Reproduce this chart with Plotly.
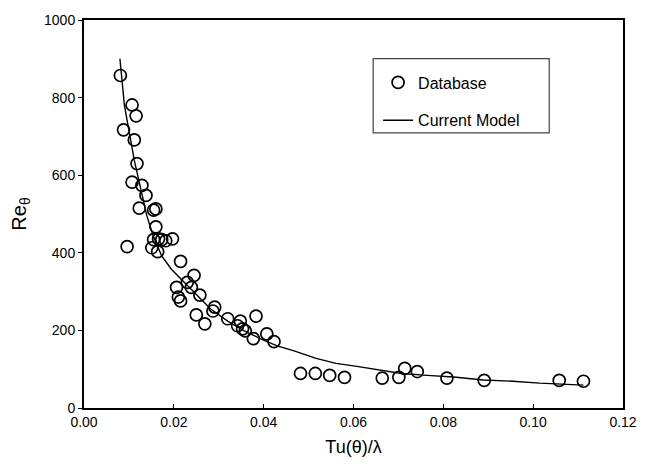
import plotly.graph_objects as go

# Database points: Tu(theta)/lambda vs Re_theta
db_x = [0.0081, 0.0107, 0.0116, 0.0088, 0.0112, 0.0118, 0.0107, 0.0129, 0.0138, 0.0123,
        0.0155, 0.0160, 0.0160, 0.0096, 0.0155, 0.0166, 0.0173, 0.0182, 0.0197, 0.0151,
        0.0164, 0.0215, 0.0245, 0.0230, 0.0239, 0.0206, 0.0210, 0.0215, 0.0258, 0.0291,
        0.0287, 0.0250, 0.0269, 0.0320, 0.0348, 0.0342, 0.0359, 0.0353, 0.0383, 0.0377,
        0.0407, 0.0423, 0.0482, 0.0515, 0.0547, 0.0580, 0.0664, 0.0701, 0.0714, 0.0742,
        0.0808, 0.0891, 0.1058, 0.1112]
db_y = [857, 781, 753, 717, 691, 630, 582, 574, 548, 515,
        510, 513, 467, 416, 434, 436, 434, 431, 436, 413,
        403, 378, 342, 324, 311, 311, 286, 276, 291, 260,
        250, 240, 217, 230, 224, 212, 199, 204, 237, 179,
        191, 171, 89, 89, 84, 79, 77, 79, 102, 94,
        77, 71, 71, 69]

# Current model curve
model_x = [0.0080, 0.0090, 0.0112, 0.0140, 0.0155, 0.0173, 0.0195, 0.0226, 0.0254, 0.0282,
           0.0320, 0.0357, 0.0392, 0.0430, 0.0466, 0.0517, 0.0561, 0.0604, 0.0670, 0.0707,
           0.0764, 0.0823, 0.0889, 0.0955, 0.1014, 0.1071, 0.1112]
model_y = [900, 780, 638, 495, 441, 392, 357, 322, 288, 255,
           224, 199, 179, 160, 148, 128, 115, 108, 97, 89,
           84, 80, 72, 69, 64, 60, 59]

x_ticks = [0.00, 0.02, 0.04, 0.06, 0.08, 0.10, 0.12]
y_ticks = [0, 200, 400, 600, 800, 1000]

FONT = "Liberation Sans, Arial, Helvetica, sans-serif"

fig = go.Figure()
fig.add_trace(go.Scatter(
    x=db_x, y=db_y, mode="markers", name="Database",
    legendgroup="a",
    marker=dict(symbol="circle-open", size=12, color="black", line=dict(width=1.7)),
))
fig.add_trace(go.Scatter(
    x=model_x, y=model_y, mode="lines", name="Current Model",
    legendgroup="b",
    line=dict(color="black", width=1.4),
))

W, H = 649, 466
L, R, T, B = 84, 632, 18, 410

def px_x(p):
    return (p - L) / (R - L)

def px_y(p):
    return (B - p) / (B - T)

fig.update_layout(
    width=W, height=H,
    margin=dict(l=L, r=W - R, t=T, b=H - B),
    paper_bgcolor="white", plot_bgcolor="white",
    font=dict(family=FONT, color="black", size=14),
    showlegend=True,
    legend=dict(
        x=px_x(383), y=px_y(64), xanchor="left", yanchor="top",
        bgcolor="rgba(0,0,0,0)", borderwidth=0,
        font=dict(size=16, family=FONT, color="black"),
        tracegroupgap=14,
    ),
    shapes=[dict(
        type="rect", xref="paper", yref="paper",
        x0=px_x(378), x1=px_x(557), y0=px_y(132), y1=px_y(57),
        line=dict(color="#444444", width=1.2), fillcolor="rgba(0,0,0,0)",
    )],
    xaxis=dict(
        range=[0, 0.12], tickvals=x_ticks, tickformat=".2f",
        showgrid=False, zeroline=False,
        showline=True, linecolor="black", linewidth=2, mirror=True,
        ticks="inside", ticklen=4, tickwidth=1, tickcolor="black",
        tickfont=dict(size=14),
        title=dict(text="Tu(θ)/λ", font=dict(size=18), standoff=12),
    ),
    yaxis=dict(
        range=[0, 1000], tickvals=y_ticks,
        showgrid=False, zeroline=False,
        showline=True, linecolor="black", linewidth=2, mirror=True,
        ticks="outside", ticklen=4, tickwidth=1, tickcolor="black",
        tickfont=dict(size=14),
        title=dict(text="Re<sub>θ</sub>", font=dict(size=20), standoff=12),
    ),
)

fig.write_html("out.html")
